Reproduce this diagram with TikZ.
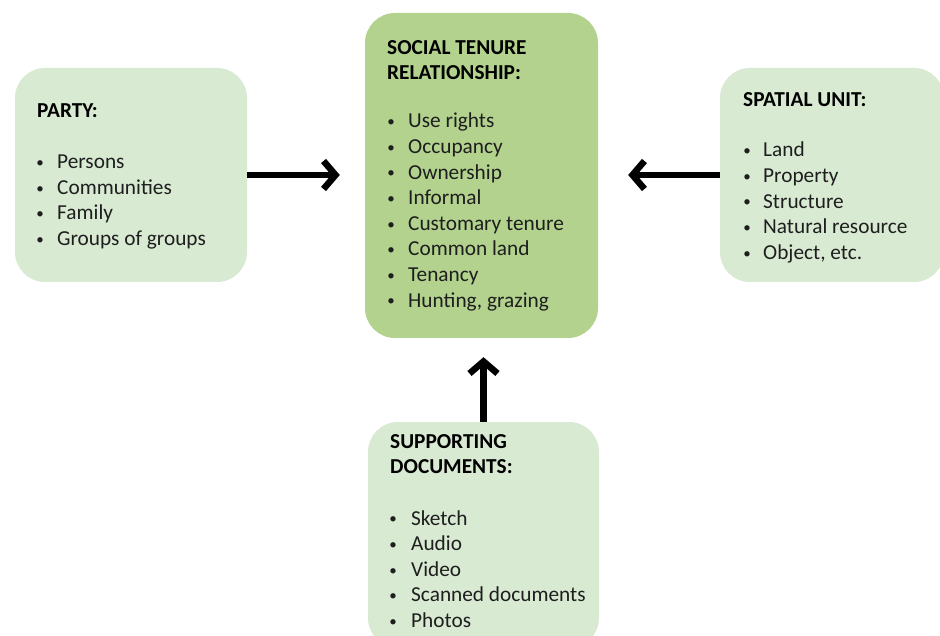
\documentclass[tikz,border=0pt]{standalone}
\usepackage{fontspec}
\setmainfont{Carlito}
\usetikzlibrary{arrows.meta}
\definecolor{stgreen}{RGB}{178,210,142}
\definecolor{sidegreen}{RGB}{217,234,211}
\definecolor{txt}{RGB}{30,30,30}
\newcommand{\smbul}{{\fontsize{15}{15}\selectfont\raisebox{1.2pt}{•}}}
\begin{document}
\begin{tikzpicture}[x=1pt,y=-1pt,
  boxbase/.style={inner sep=0pt, rounded corners=30pt},
  sidebox/.style={boxbase, fill=sidegreen},
  mainbox/.style={boxbase, fill=stgreen},
  title/.style={anchor=base west, inner sep=0pt, font=\fontsize{21.3}{25.6}\selectfont\bfseries, text=black},
  itemtext/.style={anchor=base west, inner sep=0pt, font=\fontsize{21.3}{25.6}\selectfont, text=txt},
  conn/.style={line width=6.5pt, -{Straight Barb[length=12pt,width=28pt,line width=6.5pt]}}]
\useasboundingbox (0,0) rectangle (940,636);
\clip (0,0) rectangle (940,636);
\fill[white] (0,0) rectangle (940,636);
% boxes
\node[sidebox, minimum width=232pt, minimum height=214pt] (party) at (131,175) {};
\node[mainbox, minimum width=233pt, minimum height=325pt] (str) at (481.5,175.5) {};
\node[sidebox, minimum width=224pt, minimum height=214pt] (spatial) at (832,175) {};
\node[sidebox, minimum width=231pt, minimum height=226pt] (docs) at (483.5,535) {};
% party
\node[title] (pt) at (37,118) {PARTY:};
\foreach \t [count=\i] in {Persons,Communities,Family,Groups of groups}
  \node[itemtext] (pi\i) at (23,{169+25.5*(\i-1)}) {\makebox[34pt][c]{\smbul}\t};
% social tenure relationship
\node[title] (st1) at (387,55) {SOCIAL TENURE};
\node[title] (st2) at (387,80) {RELATIONSHIP:};
\foreach \t [count=\i] in {Use rights,Occupancy,Ownership,Informal,Customary tenure,Common land,Tenancy,{Hunting, grazing}}
  \node[itemtext] (si\i) at (374,{128+25.6*(\i-1)}) {\makebox[34pt][c]{\smbul}\t};
% spatial unit
\node[title] (sut) at (743,107) {SPATIAL UNIT:};
\foreach \t [count=\i] in {Land,Property,Structure,Natural resource,{Object, etc.}}
  \node[itemtext] (ui\i) at (731,{157+25.6*(\i-1)}) {\makebox[32pt][c]{\smbul}\t};
% supporting documents
\node[title] (sd1) at (390,448) {SUPPORTING};
\node[title] (sd2) at (390,473) {DOCUMENTS:};
\foreach \t [count=\i] in {Sketch,Audio,Video,Scanned documents,Photos}
  \node[itemtext] (di\i) at (375,{525+25.6*(\i-1)}) {\makebox[36pt][c]{\smbul}\t};
% connectors
\draw[conn, shorten >=25pt] (party.east) -- (str.west |- party.east);
\draw[conn, shorten >=30pt] (spatial.west) -- (str.east |- spatial.west);
\draw[conn, shorten >=19pt] (docs.north) -- (docs.north |- str.south);
\end{tikzpicture}
\end{document}
